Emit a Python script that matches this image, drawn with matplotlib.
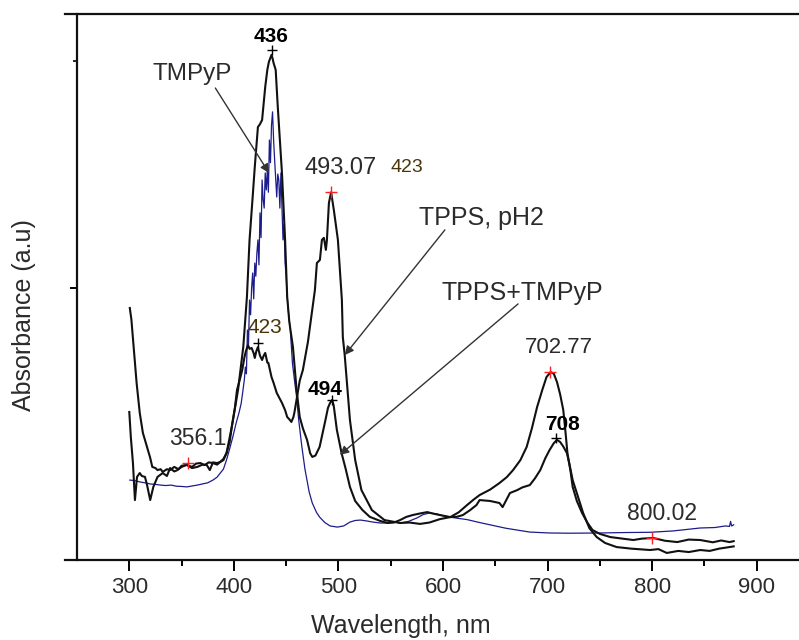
import numpy as np
import matplotlib
matplotlib.use("Agg")
import matplotlib.pyplot as plt
from matplotlib.ticker import FixedLocator, NullFormatter

plt.rcParams['font.family'] = ['Liberation Sans', 'DejaVu Sans']

# --- TPPS, pH2 (black, red markers) ---
tpps_wl = [300.5, 302, 305, 307, 310, 313, 317, 320, 322, 325, 327, 330, 332, 336, 339, 343, 347,
           350, 355, 360, 364, 368, 372, 376, 380, 384, 387, 390, 393, 396, 398, 401, 403, 406, 408,
           410, 411.5, 413.5, 415, 417, 419, 420, 421.5, 423, 425, 427, 428.5, 430, 432, 433, 436,
           438, 441, 444, 446, 449, 451, 453, 455, 457, 458, 461, 463, 466, 470.8, 474, 477.5, 479.4,
           482.3, 484.2, 486.1, 488, 489, 490.9, 493, 495.6, 498.5, 499.5, 501.4, 503.3, 504.2, 506,
           508, 511, 516, 522, 532, 544, 559, 568, 578, 587, 597, 607, 615, 623, 629, 635, 645, 654,
           661, 667, 674, 680, 685, 690, 695, 699, 703, 706, 709, 712, 715, 717, 719, 722, 724, 728,
           733, 738, 743, 750, 760, 770, 782, 790, 801, 812, 824, 835, 846, 858, 866, 874, 878]
tpps_abs = [1.11, 1.06, 0.89, 0.78, 0.648, 0.56, 0.498, 0.45, 0.41, 0.405, 0.396, 0.40, 0.388, 0.40,
            0.396, 0.41, 0.40, 0.415, 0.419, 0.41, 0.425, 0.427, 0.418, 0.43, 0.427, 0.42, 0.432,
            0.44, 0.471, 0.52, 0.586, 0.67, 0.749, 0.80, 0.837, 0.89, 0.92, 0.947, 0.93, 0.934, 0.91,
            0.89, 0.92, 0.938, 0.90, 0.881, 0.90, 0.912, 0.87, 0.868, 0.806, 0.78, 0.736, 0.71, 0.692,
            0.66, 0.63, 0.62, 0.608, 0.63, 0.652, 0.736, 0.79, 0.837, 0.96, 1.07, 1.189, 1.308, 1.322,
            1.41, 1.419, 1.366, 1.41, 1.573, 1.62, 1.542, 1.445, 1.41, 1.278, 1.145, 0.982, 0.903,
            0.79, 0.617, 0.441, 0.308, 0.22, 0.176, 0.163, 0.165, 0.159, 0.165, 0.18, 0.189, 0.21,
            0.242, 0.265, 0.286, 0.31, 0.339, 0.365, 0.396, 0.44, 0.498, 0.58, 0.674, 0.75, 0.806,
            0.828, 0.82, 0.784, 0.73, 0.661, 0.57, 0.471, 0.39, 0.322, 0.26, 0.207, 0.165, 0.132,
            0.115, 0.101, 0.095, 0.088, 0.094, 0.097, 0.085, 0.079, 0.09, 0.088, 0.078, 0.086, 0.079,
            0.083]

# --- TPPS+TMPyP (black, black markers) ---
mix_wl = [300, 301.5, 303.5, 305.4, 307.4, 310, 312, 315, 317, 320, 323, 327, 332, 336, 339, 343,
          346, 350, 355, 360, 365, 370, 374, 377, 380, 384, 387, 390, 393, 398, 404, 409, 412.5, 415,
          418, 420, 423, 425, 427, 430, 432, 433.5, 436, 437, 438, 440, 442, 444, 446, 449, 451, 453,
          456.5, 460, 463, 466, 470, 473, 475, 478, 482, 487, 490, 492, 494, 495.5, 498.5, 503, 507,
          511, 516, 523, 530, 540, 547, 553, 559, 565, 571, 578, 585, 590, 597, 607, 613, 619, 626,
          632, 635, 645, 654, 657, 664, 671, 676, 683, 688, 693, 698, 702, 706, 709, 712, 715, 718.5,
          721, 724, 729, 734, 740, 747, 755, 766, 780, 798, 806, 814, 825, 835, 846, 855, 864, 874,
          878]
mix_abs = [0.652, 0.54, 0.427, 0.264, 0.366, 0.383, 0.37, 0.366, 0.33, 0.264, 0.322, 0.366, 0.383,
           0.37, 0.405, 0.39, 0.396, 0.41, 0.419, 0.405, 0.41, 0.42, 0.419, 0.396, 0.43, 0.427,
           0.432, 0.445, 0.471, 0.586, 0.749, 0.938, 1.159, 1.41, 1.6, 1.731, 1.907, 1.92, 1.938,
           2.084, 2.159, 2.194, 2.225, 2.21, 2.189, 2.159, 1.996, 1.85, 1.705, 1.41, 1.159, 1.05,
           0.938, 0.749, 0.63, 0.58, 0.529, 0.47, 0.454, 0.46, 0.498, 0.604, 0.67, 0.692, 0.705,
           0.68, 0.573, 0.471, 0.40, 0.322, 0.26, 0.22, 0.19, 0.172, 0.163, 0.165, 0.176, 0.19,
           0.198, 0.205, 0.211, 0.205, 0.198, 0.189, 0.19, 0.198, 0.22, 0.242, 0.264, 0.26, 0.251,
           0.233, 0.295, 0.308, 0.32, 0.33, 0.36, 0.396, 0.45, 0.485, 0.515, 0.529, 0.52, 0.5,
           0.471, 0.42, 0.352, 0.28, 0.207, 0.14, 0.101, 0.075, 0.057, 0.05, 0.044, 0.048, 0.031,
           0.04, 0.035, 0.044, 0.04, 0.05, 0.057, 0.06]

# --- TMPyP (blue) ---
tmpyp_wl = [300.5, 305, 310, 315, 320, 325, 330, 335, 340, 345, 350, 355, 360, 365, 370, 375, 380,
            384, 387, 390, 393, 396, 399, 402, 405, 407, 408.5, 410, 411, 412, 413, 414, 415, 416,
            417, 418, 419, 420, 421, 422, 423, 424, 425, 426, 427, 428, 429, 430, 431, 432, 433,
            434, 435, 436, 437, 438, 439, 440, 441, 442, 443, 444, 445, 446, 447, 448, 449, 450,
            451, 452, 454, 456, 458, 460, 462, 465, 468, 472, 475, 479, 482, 487, 492, 499, 505,
            511, 516, 521, 527, 533, 540, 547, 553, 559, 567, 575, 581, 587, 594, 600, 607, 615,
            623, 635, 645, 660, 683, 702, 720, 750, 775, 798, 820, 846, 860, 870, 874, 875, 876, 878]
tmpyp_abs = [0.352, 0.35, 0.344, 0.34, 0.335, 0.333, 0.33, 0.328, 0.33, 0.325, 0.324, 0.322, 0.326,
             0.33, 0.335, 0.34, 0.352, 0.365, 0.383, 0.40, 0.441, 0.49, 0.542, 0.60, 0.65, 0.69,
             0.74, 0.793, 0.85, 0.82, 1.013, 0.95, 1.145, 1.08, 1.2, 1.264, 1.15, 1.308, 1.25, 1.35,
             1.41, 1.30, 1.529, 1.42, 1.674, 1.586, 1.55, 1.705, 1.63, 1.718, 1.62, 1.85, 1.75,
             1.916, 1.974, 1.85, 1.762, 1.68, 1.599, 1.70, 1.674, 1.55, 1.705, 1.555, 1.41, 1.48,
             1.308, 1.25, 1.159, 1.101, 1.013, 0.868, 0.79, 0.718, 0.617, 0.50, 0.40, 0.30, 0.251,
             0.21, 0.189, 0.165, 0.15, 0.145, 0.15, 0.167, 0.174, 0.176, 0.172, 0.167, 0.163, 0.163,
             0.168, 0.163, 0.17, 0.185, 0.2, 0.207, 0.203, 0.195, 0.189, 0.183, 0.178, 0.165, 0.155,
             0.14, 0.123, 0.119, 0.118, 0.119, 0.121, 0.122, 0.128, 0.141, 0.143, 0.15, 0.148, 0.17,
             0.15, 0.155]

# peak markers
red_pk_wl = [356.1, 493.07, 702.77, 800.02]
red_pk_abs = [0.427, 1.621, 0.828, 0.097]
blk_pk_wl = [436, 423, 494, 708]
blk_pk_abs = [2.247, 0.956, 0.705, 0.537]

fig = plt.figure(figsize=(7.99, 6.4), dpi=100)
ax = fig.add_axes([77 / 799, 80 / 640, 732 / 799, 546 / 640])

ax.plot(tmpyp_wl, tmpyp_abs, color='#1c1c8a', lw=0.9)
ax.plot(mix_wl, mix_abs, color='#111111', lw=1.5)
ax.plot(tpps_wl, tpps_abs, color='#111111', lw=1.5)
ax.plot(red_pk_wl, red_pk_abs, '+', color='#ff2020', ms=9, mew=1.0)
ax.plot(blk_pk_wl, blk_pk_abs, '+', color='black', ms=7, mew=1.0)

ax.set_xlim(250, 950)
ax.set_ylim(0, 2.405)

ax.spines['right'].set_visible(False)
for s in ['top', 'bottom', 'left']:
    ax.spines[s].set_linewidth(1.6)
    ax.spines[s].set_color('#111111')
ax.spines['bottom'].set_bounds(239, 950)
ax.spines['top'].set_bounds(239, 950)

ax.xaxis.set_major_locator(FixedLocator([300, 400, 500, 600, 700, 800, 900]))
ax.xaxis.set_minor_locator(FixedLocator([350, 450, 550, 650, 750, 850]))
ax.yaxis.set_major_locator(FixedLocator([1.2]))
ax.yaxis.set_minor_locator(FixedLocator([2.2]))
ax.yaxis.set_major_formatter(NullFormatter())
ax.tick_params(axis='x', which='major', direction='out', length=8, width=1.4, pad=4,
               labelsize=16, labelcolor='#2b2b2b', top=False)
ax.tick_params(axis='x', which='minor', direction='out', length=4, width=1.4, top=False)
ax.tick_params(axis='y', which='major', direction='out', length=5, width=1.4, right=False)
ax.tick_params(axis='y', which='minor', direction='out', length=3, width=1.2, right=False)

fig.text(401 / 799, 0.003, 'Wavelength, nm', ha='center', va='bottom', fontsize=18, color='#2b2b2b')
fig.text(24 / 799, 1 - 315 / 640, 'Absorbance (a.u)', rotation=90, ha='center', va='center',
         fontsize=18, color='#2b2b2b')

# peak labels
txt = '#2b2b2b'
ax.text(436, 2.304, '436', ha='center', va='center', fontsize=15, fontweight='bold', color='black')
ax.text(502, 1.727, '493.07', ha='center', va='center', fontsize=17, color=txt)
ax.text(565.6, 1.731, '423', ha='center', va='center', fontsize=14, color='#4a3508')
ax.text(429.7, 1.026, '423', ha='center', va='center', fontsize=15, color='#4a3508')
ax.text(365.7, 0.537, '356.1', ha='center', va='center', fontsize=16.5, color=txt)
ax.text(487.2, 0.749, '494', ha='center', va='center', fontsize=15, fontweight='bold', color='black')
ax.text(710.8, 0.938, '702.77', ha='center', va='center', fontsize=16, color=txt)
ax.text(714.7, 0.595, '708', ha='center', va='center', fontsize=15, fontweight='bold', color='black')
ax.text(809.2, 0.207, '800.02', ha='center', va='center', fontsize=16.5, color=txt)

arrow = dict(arrowstyle='-|>', lw=1.0, color='#333333', mutation_scale=13, shrinkA=0, shrinkB=0)
ax.text(360.5, 2.141, 'TMPyP', ha='center', va='center', fontsize=17.5, color=txt)
ax.annotate('', xy=(433.6, 1.705), xytext=(382.3, 2.079), arrowprops=arrow)
ax.text(637.2, 1.507, 'TPPS, pH2', ha='center', va='center', fontsize=18, color=txt)
ax.annotate('', xy=(506.1, 0.903), xytext=(601.8, 1.454), arrowprops=arrow)
ax.text(675.6, 1.176, 'TPPS+TMPyP', ha='center', va='center', fontsize=18, color=txt)
ax.annotate('', xy=(501.4, 0.463), xytext=(671.8, 1.128), arrowprops=arrow)

fig.savefig('out.png', dpi=100)
